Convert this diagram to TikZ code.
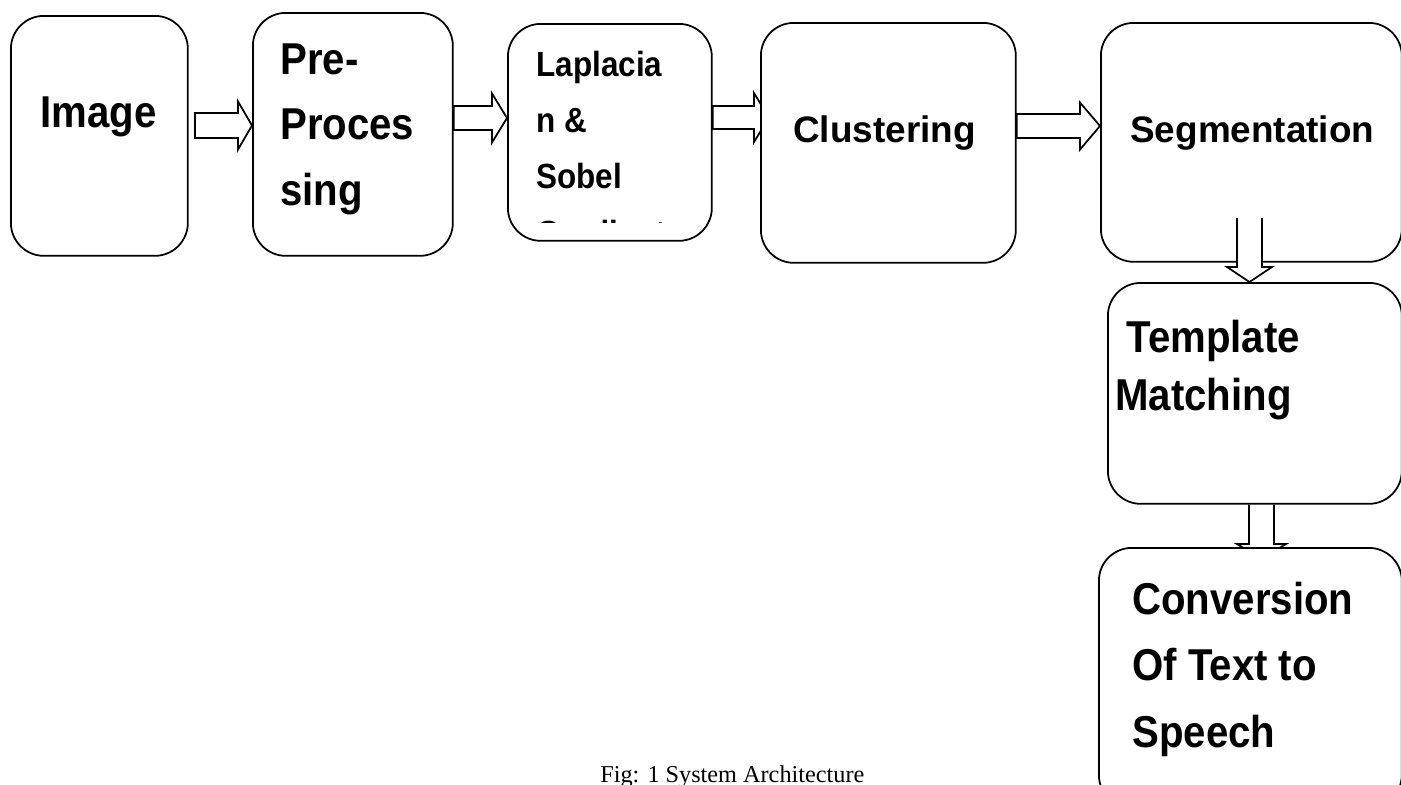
\documentclass[tikz,border=0pt]{standalone}
\usepackage{fontspec}
\setmainfont{Liberation Serif}
\newfontfamily\boxfont[FakeStretch=0.9]{Liberation Sans}
\newfontfamily\widefont{Liberation Sans}
\usetikzlibrary{positioning,calc,backgrounds}

\tikzset{
    stage/.style={draw=black, line width=1pt, rounded corners=0.66cm, fill=white, anchor=north west, inner sep=0pt},
    bigtext/.style={anchor=base west, inner sep=0pt, align=left, font=\boxfont\bfseries\fontsize{25.4pt}{37pt}\selectfont},
    smalltext/.style={anchor=base west, inner sep=0pt, align=left, font=\boxfont\bfseries\fontsize{19.9pt}{31.9pt}\selectfont},
    widetext/.style={anchor=base west, inner sep=0pt, font=\widefont\bfseries\fontsize{21pt}{26pt}\selectfont},
    captiontext/.style={anchor=base west, inner sep=0pt, font=\fontsize{13.8pt}{16pt}\selectfont},
    blockarrow/.style={draw=black, line width=1pt, fill=white, line join=miter}
}

% hollow block arrow to the right: tail, tip, shaft half width, head half width, head length
\newcommand{\blockarrowR}[5]{%
    \draw[blockarrow] ($(#1)+(0,-#3)$) -- ($(#2)+(-#5,-#3)$) -- ($(#2)+(-#5,-#4)$) -- (#2)
        -- ($(#2)+(-#5,#4)$) -- ($(#2)+(-#5,#3)$) -- ($(#1)+(0,#3)$) -- cycle;}
% hollow block arrow downwards, open at the tail
\newcommand{\blockarrowD}[5]{%
    \draw[blockarrow] ($(#1)+(-#3,0)$) -- ($(#2)+(-#3,-#5)$) -- ($(#2)+(-#4,-#5)$) -- (#2)
        -- ($(#2)+(#4,-#5)$) -- ($(#2)+(#3,-#5)$) -- ($(#1)+(#3,0)$);}

\begin{document}
\begin{tikzpicture}[x=0.02cm, y=-0.02cm]
    %Frame - one unit is one pixel of the figure, y grows downwards%
    %===========================================================
    \clip (0,0) rectangle (1401,785); %Page size
    %Processing stages%
    %===========================================================
    \node[stage, minimum width=3.54cm, minimum height=4.80cm] (img) at (10,15) {}; %Input
    \node[stage, minimum width=4.00cm, minimum height=4.86cm] (pre) at (252,12) {};
    \node[stage, minimum width=4.08cm, minimum height=4.34cm] (lap) at (507,23) {};
    \node[stage, minimum width=5.10cm, minimum height=4.80cm] (clus) at (760,22) {};
    \node[stage, minimum width=6.02cm, minimum height=4.78cm] (seg) at (1100,22) {};
    \node[stage, minimum width=5.88cm, minimum height=4.42cm] (tmpl) at (1107,282) {};
    \node[stage, minimum width=6.06cm, minimum height=5.20cm] (conv) at (1098,547) {}; %Output, cut by the page
    %Stage texts - multi line texts sit on the baseline of their last line%
    %===========================================================
    \node[bigtext] (img_txt) at (40,127) {Image};
    \node[bigtext] (pre_txt) at (280,205) {Pre-\\Proces\\sing};
    \begin{scope}
        \clip (507,23) rectangle (711,222); %Text runs out of the box
        \node[smalltext] (lap_txt) at (536,245) {Laplacia\\n \&\\Sobel\\Gradient};
    \end{scope}
    \node[widetext] (clus_txt) at (793,142) {Clustering};
    \node[widetext] (seg_txt) at (1130,142) {Segmentation};
    \node[bigtext, font=\boxfont\bfseries\fontsize{25.4pt}{33pt}\selectfont] (tmpl_txt) at (1115,410) {\ Template\\Matching};
    \node[bigtext, font=\boxfont\bfseries\fontsize{25.4pt}{37.6pt}\selectfont] (conv_txt) at (1132,747) {Conversion\\Of Text to\\Speech};
    \node[captiontext] (fig_txt) at (600,782) {Fig: 1 System Architecture};
    %Block arrows, heads partly hidden behind the boxes%
    %===========================================================
    \coordinate (a1t) at (195,125.5);
    \coordinate (a2t) at (pre.east |- 0,118);
    \coordinate (a3t) at (lap.east |- 0,117.5);
    \coordinate (a4t) at (clus.east |- 0,126);
    \coordinate (a5t) at (1249.5,218);
    \coordinate (a6t) at (1261.5,0 |- tmpl.south);
    \begin{scope}[on background layer]
        \blockarrowR{a1t}{pre.west |- a1t}{12.5}{24}{14} %Image to pre-processing
        \blockarrowR{a2t}{lap.west |- a2t}{12}{24.5}{15}
        \blockarrowR{a3t}{769,117.5}{11.5}{24.5}{15}
        \blockarrowR{a4t}{seg.west |- a4t}{12}{23.5}{20}
        \blockarrowD{a6t}{1261.5,559}{12.5}{24.5}{15}
    \end{scope}
    \blockarrowD{a5t}{a5t |- tmpl.north}{12.5}{22.5}{15} %Segmentation to template matching
\end{tikzpicture}
\end{document}
